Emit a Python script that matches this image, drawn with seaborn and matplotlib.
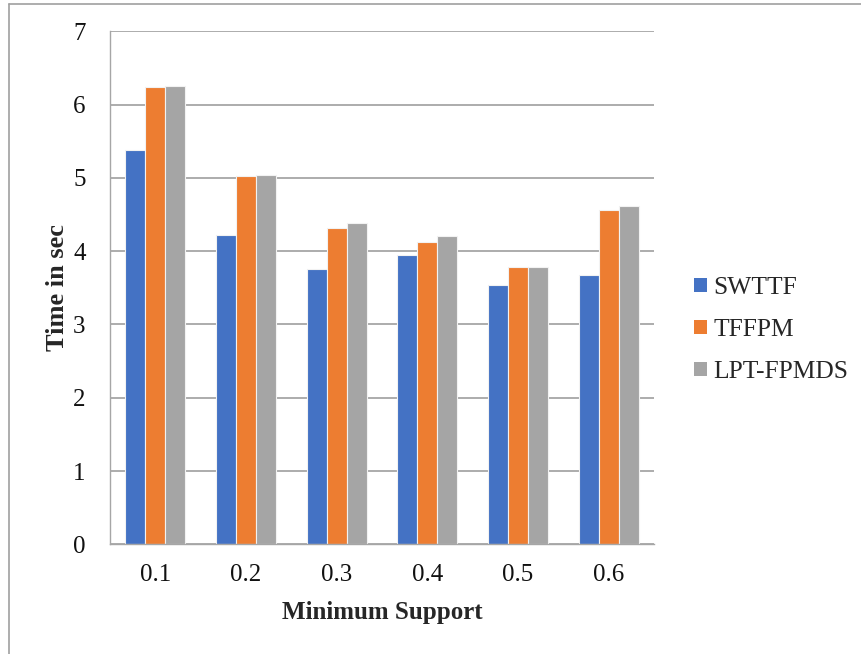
import matplotlib
matplotlib.use("Agg")
import matplotlib.pyplot as plt
from matplotlib.lines import Line2D
from matplotlib.patches import Patch
from matplotlib.ticker import FixedLocator
import seaborn as sns
import pandas as pd

# Minimum support thresholds and run times (seconds) for each method
support = ["0.1", "0.2", "0.3", "0.4", "0.5", "0.6"]
swttf = [5.38, 4.22, 3.75, 3.95, 3.54, 3.67]
tffpm = [6.24, 5.02, 4.32, 4.13, 3.78, 4.56]
lpt_fpmds = [6.25, 5.04, 4.39, 4.21, 3.79, 4.61]
methods = ["SWTTF", "TFFPM", "LPT-FPMDS"]
colors = ["#4472C4", "#ED7D31", "#A5A5A5"]

df = pd.DataFrame({
    "support": support * 3,
    "time": swttf + tffpm + lpt_fpmds,
    "method": [m for m in methods for _ in support],
})

sns.set_style("white")
plt.rcParams["font.family"] = ["Liberation Serif", "DejaVu Serif"]

W, H = 862, 654
fig = plt.figure(figsize=(W / 100, H / 100), dpi=100)
ax = fig.add_axes([110 / W, (H - 544.3) / H, 544 / W, 513 / H])

sns.barplot(data=df, x="support", y="time", hue="method", order=support,
            hue_order=methods, palette=colors, width=0.66, saturation=1,
            edgecolor="#f2f2f2", linewidth=0.8, ax=ax, legend=False, zorder=3)

grid_c = "#a6a6a6"
ax.set_ylim(0, 7)
ax.set_xlim(-0.5, len(support) - 0.5)
ax.set_yticks(range(0, 8))
ax.yaxis.grid(True, color=grid_c, linewidth=1.3, zorder=0)
ax.set_axisbelow(True)
for side in ["top", "right"]:
    ax.spines[side].set_visible(False)
for side in ["left", "bottom"]:
    ax.spines[side].set_color(grid_c)
    ax.spines[side].set_linewidth(1.0)
    ax.spines[side].set_zorder(4)

ax.tick_params(axis="y", length=7, width=1.0, color=grid_c, direction="out",
               labelsize=18, pad=10.5, labelcolor="#111111")
ax.tick_params(axis="x", which="major", length=0, labelsize=18, pad=14,
               labelcolor="#111111")
ax.xaxis.set_minor_locator(FixedLocator([i - 0.5 for i in range(len(support) + 1)]))
ax.tick_params(axis="x", which="minor", length=7, width=1.0, color=grid_c,
               direction="out")

ax.set_xlabel("Minimum Support", fontsize=18, fontweight="bold", labelpad=11)
ax.set_ylabel("Time in sec", fontsize=19, fontweight="bold", labelpad=3)

handles = [Patch(facecolor=c, edgecolor="none") for c in colors]
fig.legend(handles, methods, loc="center left",
           bbox_to_anchor=(694 / W, 1 - 330 / H), frameon=False, fontsize=18.4,
           handlelength=0.5, handleheight=0.5, handletextpad=0.25,
           labelspacing=0.78, borderpad=0, borderaxespad=0)

# chart frame (left and top edges)
fig.add_artist(Line2D([9 / W, 9 / W], [0, 1 - 4.3 / H], color="#a0a0a0",
                      linewidth=1.2, transform=fig.transFigure))
fig.add_artist(Line2D([9 / W, 1], [1 - 4.3 / H, 1 - 4.3 / H], color="#a0a0a0",
                      linewidth=1.2, transform=fig.transFigure))

fig.savefig("out.png", dpi=100)
